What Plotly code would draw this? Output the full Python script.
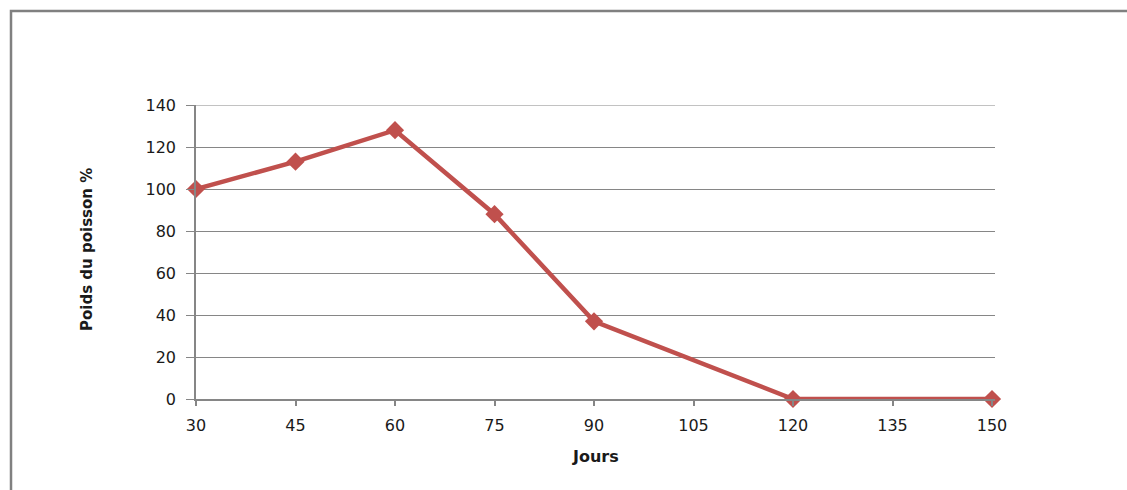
import plotly.graph_objects as go

# Fish weight (%) over time (days)
jours = [30, 45, 60, 75, 90, 120, 150]
poids = [100, 113, 128, 88, 37, 0, 0]
x_ticks = [30, 45, 60, 75, 90, 105, 120, 135, 150]
y_ticks = [0, 20, 40, 60, 80, 100, 120, 140]

W, H = 1127, 490
L, R, T, B = 196, 132, 105, 91
red = "#C0504D"
grey = "#868686"
font_family = "DejaVu Sans"


def px_x(p):
    return (p - L) / (W - L - R)


def px_y(p):
    return 1 - (p - T) / (H - T - B)


fig = go.Figure()
fig.add_trace(go.Scatter(
    x=jours, y=poids, mode="lines+markers",
    line=dict(color=red, width=4.5),
    marker=dict(symbol="diamond", size=14, color=red),
    cliponaxis=False, showlegend=False,
))

fig.update_layout(
    width=W, height=H,
    margin=dict(l=L, r=R, t=T, b=B),
    paper_bgcolor="white", plot_bgcolor="white",
    font=dict(family=font_family, size=16, color="#1a1a1a"),
    xaxis=dict(
        range=[30, 150.45], tickvals=x_ticks, ticktext=[str(v) for v in x_ticks],
        showgrid=False, zeroline=False,
        showline=True, linecolor=grey, linewidth=1.5,
        ticks="outside", ticklen=5, tickcolor=grey, tickwidth=1.5,
        ticklabelstandoff=6,
        tickfont=dict(size=16),
    ),
    yaxis=dict(
        range=[0, 140], tickvals=y_ticks,
        showgrid=True, gridcolor=grey, gridwidth=1.2, zeroline=False,
        showline=True, linecolor=grey, linewidth=1.5,
        ticks="outside", ticklen=8, tickcolor=grey, tickwidth=1.2,
        ticklabelstandoff=7,
        tickfont=dict(size=16),
    ),
    annotations=[
        dict(text="<b>Jours</b>", xref="paper", yref="paper",
             x=px_x(595), y=px_y(456), xanchor="center", yanchor="middle",
             showarrow=False, font=dict(size=16)),
        dict(text="<b>Poids du poisson %</b>", xref="paper", yref="paper",
             x=px_x(87), y=px_y(250), xanchor="center", yanchor="middle",
             textangle=-90, showarrow=False, font=dict(size=15)),
    ],
    shapes=[
        # outer chart frame
        dict(type="rect", xref="paper", yref="paper",
             x0=px_x(11), x1=px_x(1140), y0=px_y(11), y1=px_y(500),
             line=dict(color="#808080", width=2.5), layer="below"),
        # top gridline at the end of the value axis
        dict(type="line", xref="paper", yref="y",
             x0=0, x1=1, y0=y_ticks[-1], y1=y_ticks[-1],
             line=dict(color=grey, width=1.2), layer="below"),
    ],
)

fig.write_html("out.html")
